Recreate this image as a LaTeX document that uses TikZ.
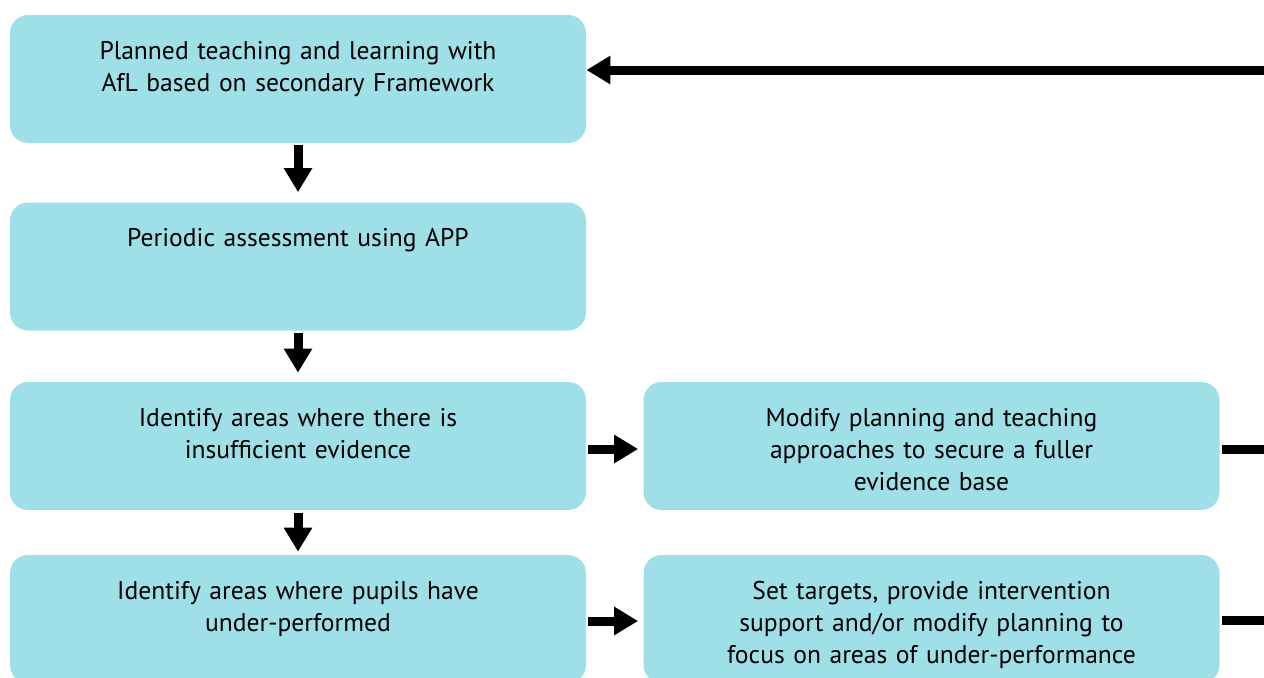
\documentclass[tikz,border=0pt]{standalone}
\usepackage{fontspec}
\setmainfont{PT Sans}
\usetikzlibrary{arrows.meta}
\definecolor{boxcyan}{RGB}{159,224,232}
\tikzset{stage/.style={fill=boxcyan, rounded corners=9pt, minimum width=288pt, inner sep=0pt,
    text width=280pt, align=center, text height=22pt, text depth=42pt,
    font=\fontsize{12.8}{16}\selectfont}}
\tikzset{flow/.style={line width=4.5pt, -{Triangle[width=13.5pt,length=12pt]}}}
\tikzset{back/.style={line width=4.5pt}}

\begin{document}
\begin{tikzpicture}[x=0.5pt, y=-0.5pt]
\useasboundingbox (0,0) rectangle (1264,677);
\node[stage] (plan) at (298,79) {Planned teaching and learning with\\AfL based on secondary Framework};
\node[stage] (periodic) at (298,266.5) {Periodic assessment using APP};
\node[stage] (insuff) at (298,446) {Identify areas where there is\\insufficient evidence};
\node[stage] (underp) at (298,619) {Identify areas where pupils have\\under-performed};
\node[stage] (modify) at (931.5,446) {Modify planning and teaching\\approaches to secure a fuller\\evidence base};
\node[stage] (targets) at (931.5,619) {Set targets, provide intervention\\support and/or modify planning to\\focus on areas of under-performance};
\coordinate (ret) at (1264,70);
\coordinate (outA) at (1264,449);
\coordinate (outB) at (1264,620);
\draw[flow, shorten <=1pt, shorten >=5pt] (plan.south) -- (periodic.north);
\draw[flow, shorten <=1pt, shorten >=4.5pt] (periodic.south) -- (insuff.north);
\draw[flow, shorten <=1.5pt, shorten >=1.5pt] (insuff.south) -- (underp.north);
\draw[flow, shorten <=1pt, shorten >=2.5pt] ([yshift=-1.5pt]insuff.east) -- ([yshift=-1.5pt]modify.west);
\draw[flow, shorten <=1pt, shorten >=2.5pt] ([yshift=-1pt]underp.east) -- ([yshift=-1pt]targets.west);
\draw[flow] (ret) -- (plan.east |- ret);
\draw[back, shorten <=1pt] (modify.east |- outA) -- (outA);
\draw[back, shorten <=1pt] (targets.east |- outB) -- (outB);
\end{tikzpicture}
\end{document}
